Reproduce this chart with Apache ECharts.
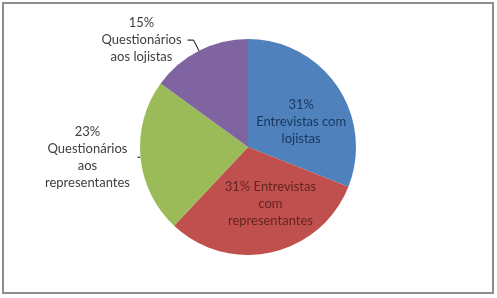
<!DOCTYPE html>
<html>
<head>
<meta charset="utf-8">
<script src="https://cdn.jsdelivr.net/npm/echarts@6/dist/echarts.min.js"></script>
<style>html,body{margin:0;padding:0;background:#fff}#c{width:497px;height:298px}</style>
</head>
<body>
<div id="c"></div>
<script>
const categories = ['Entrevistas com lojistas', 'Entrevistas com representantes', 'Questionários aos representantes', 'Questionários aos lojistas'];
const values = [31, 31, 23, 15];
const labelTexts = [
  ['{p}%', 'Entrevistas com', 'lojistas'],
  ['{p}% Entrevistas', 'com', 'representantes'],
  ['{p}%', 'Questionários', 'aos', 'representantes'],
  ['{p}%', 'Questionários', 'aos lojistas']
];
const colors = ['#4f81bd', '#c0504d', '#9bbb59', '#8064a2'];

const total = values.reduce((a, b) => a + b, 0);
const FONT = 'Lato';

const labelStyles = [
  { position: 'inside', color: '#17375e', offset: [6, 7], width: 104 },
  { position: 'inside', color: '#632523', offset: [10, 1], width: 104 },
  { position: 'outside', color: '#404040', width: 90, len: 1, len2: 2 },
  { position: 'outside', color: '#404040', width: 82, len: 12, len2: 6 }
];

const data = categories.map((name, i) => {
  const st = labelStyles[i];
  const pct = Math.round(values[i] / total * 100);
  const txt = labelTexts[i].map(l => '{t|' + l.replace('{p}', pct) + '}').join('\n');
  const item = {
    name: name,
    value: values[i],
    itemStyle: { color: colors[i] },
    label: {
      show: true,
      position: st.position,
      formatter: txt,
      rich: { t: { width: st.width, align: 'center', fontFamily: FONT, fontSize: 13, lineHeight: 17, color: st.color } }
    }
  };
  if (st.offset) item.label.offset = st.offset;
  if (st.position === 'outside') {
    item.labelLine = { show: true, length: st.len, length2: st.len2, smooth: false, lineStyle: { color: '#000', width: 1 } };
  }
  return item;
});

const chart = echarts.init(document.getElementById('c'), null, { renderer: 'canvas' });
chart.setOption({
  animation: false,
  backgroundColor: '#fff',
  graphic: [{
    type: 'rect',
    shape: { x: 3, y: 3, width: 490, height: 290 },
    style: { fill: 'none', stroke: '#8c8c8c', lineWidth: 2 },
    z: 100
  }],
  series: [{
    type: 'pie',
    center: [248, 147],
    radius: 108,
    startAngle: 90,
    clockwise: true,
    avoidLabelOverlap: false,
    data: data,
    itemStyle: { borderWidth: 0 },
    label: { fontFamily: FONT, fontSize: 13 }
  }]
});
</script>
</body>
</html>
